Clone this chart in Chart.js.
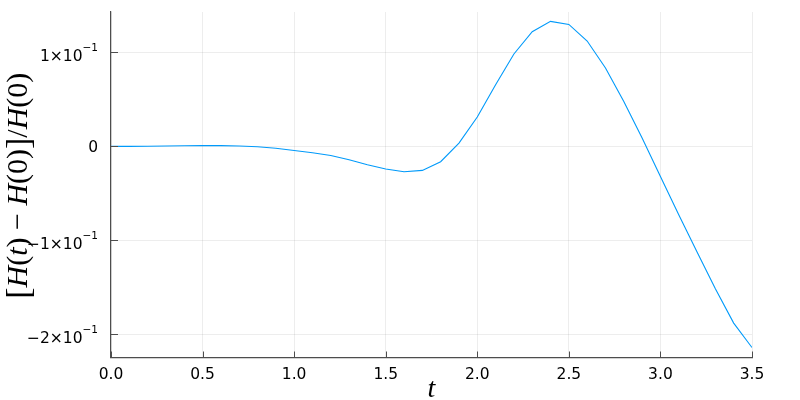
<!DOCTYPE html>
<html>
<head>
<meta charset="utf-8">
<script src="https://cdn.jsdelivr.net/npm/chart.js@4"></script>
<style>
  html, body { margin: 0; padding: 0; background: #fff; }
  #wrap { width: 800px; height: 400px; position: relative; }
</style>
</head>
<body>
<div id="wrap"><canvas id="grafico"></canvas></div>
<script>
// time samples and relative energy error
const tempos = [0.0, 0.1, 0.2, 0.3, 0.4, 0.5, 0.6, 0.7, 0.8, 0.9,
                1.0, 1.1, 1.2, 1.3, 1.4, 1.5, 1.6, 1.7, 1.8, 1.9,
                2.0, 2.1, 2.2, 2.3, 2.4, 2.5, 2.6, 2.7, 2.8, 2.9,
                3.0, 3.1, 3.2, 3.3, 3.4, 3.5]
const erroH = [0.0, 0.0, 0.0002, 0.0005, 0.0007, 0.0009, 0.0009, 0.0005, -0.0004, -0.0019,
               -0.0044, -0.0067, -0.0096, -0.0142, -0.0195, -0.0241, -0.0270, -0.0255, -0.0163, 0.0036,
               0.0313, 0.0657, 0.0984, 0.1221, 0.1331, 0.1299, 0.1122, 0.0835, 0.0479, 0.0089,
               -0.0320, -0.0727, -0.1125, -0.1516, -0.1881, -0.2141]

// y tick labels are mantissa + exponent, drawn with a raised exponent
const yTicks = [0.1, 0, -0.1, -0.2]
const yTickBase = ['1×10', '0', '−1×10', '−2×10']
const yTickExp = ['−1', '', '−1', '−1']
const xTicks = [0.0, 0.5, 1.0, 1.5, 2.0, 2.5, 3.0, 3.5]

const corEixo = '#4d4d4d'

// inward tick marks, y tick labels and the LaTeX-ish axis titles
const extras = {
    id: 'extras',
    afterDraw(chart) {
        const ctx = chart.ctx
        const a = chart.chartArea
        const xs = chart.scales.x, ys = chart.scales.y
        ctx.save()
        ctx.strokeStyle = corEixo
        ctx.lineWidth = 1
        ctx.beginPath()
        for (let v of yTicks) {
            const py = Math.round(ys.getPixelForValue(v)) + 0.5
            ctx.moveTo(a.left, py); ctx.lineTo(a.left + 7, py)
        }
        for (let v of xTicks) {
            const px = Math.round(xs.getPixelForValue(v)) + 0.5
            ctx.moveTo(px, a.bottom); ctx.lineTo(px, a.bottom - 6)
        }
        ctx.stroke()

        // y tick labels
        ctx.fillStyle = '#000'
        ctx.textBaseline = 'alphabetic'
        ctx.textAlign = 'left'
        const direita = a.left - 13
        yTicks.forEach((v, i) => {
            const py = ys.getPixelForValue(v)
            ctx.font = '10.5px "DejaVu Sans"'
            const wExp = ctx.measureText(yTickExp[i]).width
            ctx.font = '15.5px "DejaVu Sans"'
            const wBase = ctx.measureText(yTickBase[i]).width
            const x0 = direita - wExp - wBase
            const base = yTickExp[i] ? py + 9 : py + 6
            ctx.fillText(yTickBase[i], x0, base)
            if (yTickExp[i]) {
                ctx.font = '10.5px "DejaVu Sans"'
                ctx.fillText(yTickExp[i], x0 + wBase, base - 10)
            }
        })

        // y title
        const partes = [['[', 0, 34], ['H', 1, 30], ['(', 0, 30], ['t', 1, 30], [')', 0, 30], [' − ', 0, 30],
                        ['H', 1, 30], ['(0)', 0, 30], [']', 0, 34], ['/', 0, 30], ['H', 1, 30], ['(0)', 0, 30]]
        const fn = (p) => (p[1] ? 'italic ' : '') + p[2] + 'px "Liberation Serif"'
        let total = 0
        for (let p of partes) { ctx.font = fn(p); total += ctx.measureText(p[0]).width }
        ctx.translate(27, (a.top + a.bottom) / 2 + 1)
        ctx.rotate(-Math.PI / 2)
        let x = -total / 2
        for (let p of partes) {
            ctx.font = fn(p)
            ctx.fillText(p[0], x, p[2] > 30 ? 2 : 0)
            x += ctx.measureText(p[0]).width
        }
        ctx.restore()

        // x title
        ctx.save()
        ctx.font = 'italic 28px "Liberation Serif"'
        ctx.fillStyle = '#000'
        ctx.textAlign = 'center'
        ctx.textBaseline = 'alphabetic'
        ctx.fillText('t', (a.left + a.right) / 2, 397)
        ctx.restore()
    }
}

window.onload = () => {
    const grf = document.getElementById('grafico').getContext('2d')

    const data = {
        datasets: [{
            data: tempos.map((t, i) => ({ x: t, y: erroH[i] })),
            borderColor: '#009AFA',
            borderWidth: 1.1,
            pointRadius: 0,
            tension: 0,
            fill: false
        }]
    }

    const options = {
        responsive: true,
        maintainAspectRatio: false,
        animation: false,
        layout: { padding: { top: 12, right: 48, left: 0, bottom: 0 } },
        plugins: { legend: { display: false }, tooltip: { enabled: false } },
        scales: {
            x: {
                type: 'linear',
                min: 0, max: 3.5,
                afterFit: (s) => { s.height = 42.5 },
                afterBuildTicks: (s) => { s.ticks = xTicks.map(v => ({ value: v })) },
                ticks: {
                    font: { family: 'DejaVu Sans', size: 15.5 }, color: '#000', padding: 8, maxRotation: 0,
                    callback: (v) => Number(v).toFixed(1)
                },
                grid: { color: 'rgba(0,0,0,0.07)', lineWidth: 1, drawTicks: false },
                border: { color: corEixo, width: 1.2 }
            },
            y: {
                min: -0.2247, max: 0.1431,
                afterFit: (s) => { s.width = 111 },
                afterBuildTicks: (s) => { s.ticks = yTicks.map(v => ({ value: v })) },
                ticks: { display: false },
                grid: { color: 'rgba(0,0,0,0.07)', lineWidth: 1, drawTicks: false },
                border: { color: corEixo, width: 1.2 }
            }
        }
    }

    new Chart(grf, { type: 'line', data: data, options: options, plugins: [extras] })
}
</script>
</body>
</html>
